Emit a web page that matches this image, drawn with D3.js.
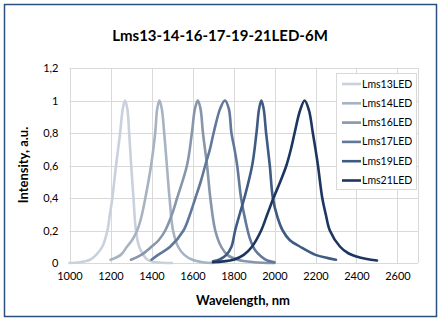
<!DOCTYPE html>
<html><head><meta charset="utf-8">
<script src="https://cdn.jsdelivr.net/npm/d3@7"></script>
<style>
body{margin:0;background:#fff;}
text{font-family:Lato,"Liberation Sans",sans-serif;fill:#000;}
</style></head>
<body><svg id="c" width="441" height="322"></svg>
<script>
const title = "Lms13-14-16-17-19-21LED-6M";
const xLabel = "Wavelength, nm";
const yLabel = "Intensity, a.u.";
const seriesNames = ["Lms13LED","Lms14LED","Lms16LED","Lms17LED","Lms19LED","Lms21LED"];
const seriesColors = ["#c9d1dc","#a7b3c3","#8796ab","#61789a","#3f5b82","#1c3660"];
const xTicks = [1000,1200,1400,1600,1800,2000,2200,2400,2600];
const yTicks = [0,0.2,0.4,0.6,0.8,1,1.2];
const yTickLabels = ["0","0,2","0,4","0,6","0,8","1","1,2"];

const wl13 = [1000,1050,1100,1130,1160,1185,1197,1209,1227,1247,1260,1271,1282,1291,1301,1312,1324,1340,1360,1380,1420,1500];
const in13 = [0,0.005,0.02,0.05,0.1,0.2,0.3,0.4,0.6,0.8,0.95,1,0.95,0.8,0.6,0.4,0.2,0.1,0.05,0.02,0.005,0];
const wl14 = [1200,1250,1280,1305,1330,1350,1370,1398,1418,1428,1439,1450,1462,1475,1488,1505,1530,1560,1600,1650,1700];
const in14 = [0.02,0.05,0.1,0.14,0.2,0.28,0.4,0.6,0.8,0.95,1,0.95,0.8,0.6,0.4,0.2,0.1,0.05,0.02,0.005,0];
const wl16 = [1300,1350,1400,1435,1467,1500,1525,1573,1597,1612,1626,1639,1651,1671,1687,1711,1740,1770,1820,1900,2000];
const in16 = [0.02,0.05,0.1,0.14,0.2,0.3,0.4,0.6,0.8,0.95,1,0.95,0.8,0.6,0.4,0.2,0.1,0.05,0.02,0.005,0];
const wl17 = [1400,1432,1491,1556,1588,1614,1640,1662,1685,1703,1735,1758,1777,1790,1805,1818,1837,1860,1880,1905,1935,1965,2000];
const in17 = [0.02,0.05,0.1,0.2,0.3,0.4,0.5,0.6,0.7,0.8,0.95,1,0.95,0.8,0.7,0.6,0.4,0.25,0.15,0.08,0.04,0.015,0.005];
const wl19 = [1700,1730,1765,1790,1808,1830,1853,1891,1912,1925,1936,1947,1959,1977,1992,2015,2040,2075,2125,2200,2260,2300];
const in19 = [0.01,0.02,0.05,0.1,0.2,0.3,0.4,0.6,0.8,0.95,1,0.95,0.8,0.6,0.4,0.28,0.2,0.14,0.1,0.05,0.03,0.02];
const wl21 = [1700,1750,1800,1850,1890,1935,1965,1995,2028,2058,2080,2098,2125,2147,2168,2187,2200,2212,2233,2250,2270,2320,2360,2400,2450,2500];
const in21 = [0.005,0.01,0.02,0.05,0.1,0.2,0.3,0.4,0.5,0.6,0.7,0.8,0.94,1,0.94,0.8,0.7,0.6,0.4,0.3,0.2,0.1,0.06,0.04,0.025,0.015];

const wls = [wl13,wl14,wl16,wl17,wl19,wl21];
const ins = [in13,in14,in16,in17,in19,in21];

const svg = d3.select("#c");
svg.append("rect").attr("x",4.5).attr("y",4.5).attr("width",432).attr("height",312)
  .attr("fill","#fff").attr("stroke","#2c4f7c").attr("stroke-width",1.5);

const x = d3.scaleLinear().domain([1000,2700]).range([69.5,418]);
const y = d3.scaleLinear().domain([0,1.2]).range([263,68]);

const g = svg.append("g");
g.selectAll("line.h").data(yTicks).join("line")
  .attr("x1",x(1000)).attr("x2",x(2700)).attr("y1",d=>Math.round(y(d))+0.5).attr("y2",d=>Math.round(y(d))+0.5)
  .attr("stroke","#d9d9d9").attr("stroke-width",1);
g.selectAll("line.v").data(xTicks.concat([2700])).join("line")
  .attr("y1",y(0)).attr("y2",y(1.2)).attr("x1",d=>Math.round(x(d))+0.5).attr("x2",d=>Math.round(x(d))+0.5)
  .attr("stroke","#d9d9d9").attr("stroke-width",1);

const xAxis = d3.axisBottom(x).tickValues(xTicks).tickSize(0).tickPadding(9).tickFormat(d3.format("d"));
const gx = svg.append("g").attr("transform",`translate(0,${y(0)})`).call(xAxis);
gx.select(".domain").remove();
gx.selectAll("text").attr("font-size",11).attr("font-family","Lato,'Liberation Sans',sans-serif").attr("fill","#000");
const yAxis = d3.axisLeft(y).tickValues(yTicks).tickSize(0).tickPadding(11).tickFormat((d,i)=>yTickLabels[i]);
const gy = svg.append("g").attr("transform",`translate(${x(1000)},0)`).call(yAxis);
gy.select(".domain").remove();
gy.selectAll("text").attr("font-size",11).attr("font-family","Lato,'Liberation Sans',sans-serif").attr("fill","#000");

const line = d3.line().x(d=>x(d[0])).y(d=>y(d[1])).curve(d3.curveCatmullRom.alpha(0.5));
seriesNames.forEach((n,i)=>{
  const pts = wls[i].map((w,j)=>[w,ins[i][j]]);
  svg.append("path").datum(pts).attr("d",line).attr("fill","none")
    .attr("stroke",seriesColors[i]).attr("stroke-width",2.6).attr("stroke-linejoin","round").attr("stroke-linecap","round");
});

svg.append("text").attr("x",220).attr("y",41).attr("text-anchor","middle")
  .attr("font-size",15).attr("font-weight","bold").text(title);
svg.append("text").attr("x",243).attr("y",305).attr("text-anchor","middle")
  .attr("font-size",13).attr("font-weight","bold").text(xLabel);
svg.append("text").attr("transform","translate(28,165) rotate(-90)").attr("text-anchor","middle")
  .attr("font-size",13).attr("font-weight","bold").text(yLabel);

const lg = svg.append("g");
lg.append("rect").attr("x",336.5).attr("y",73.5).attr("width",80).attr("height",116)
  .attr("fill","#fff").attr("stroke","#d9d9d9");
seriesNames.forEach((n,i)=>{
  const yy = 84 + i*19.3;
  lg.append("line").attr("x1",342).attr("x2",361).attr("y1",yy).attr("y2",yy)
    .attr("stroke",seriesColors[i]).attr("stroke-width",2.6);
  lg.append("text").attr("x",362).attr("y",yy+3.5).attr("font-size",10.5).text(n);
});
</script></body></html>
